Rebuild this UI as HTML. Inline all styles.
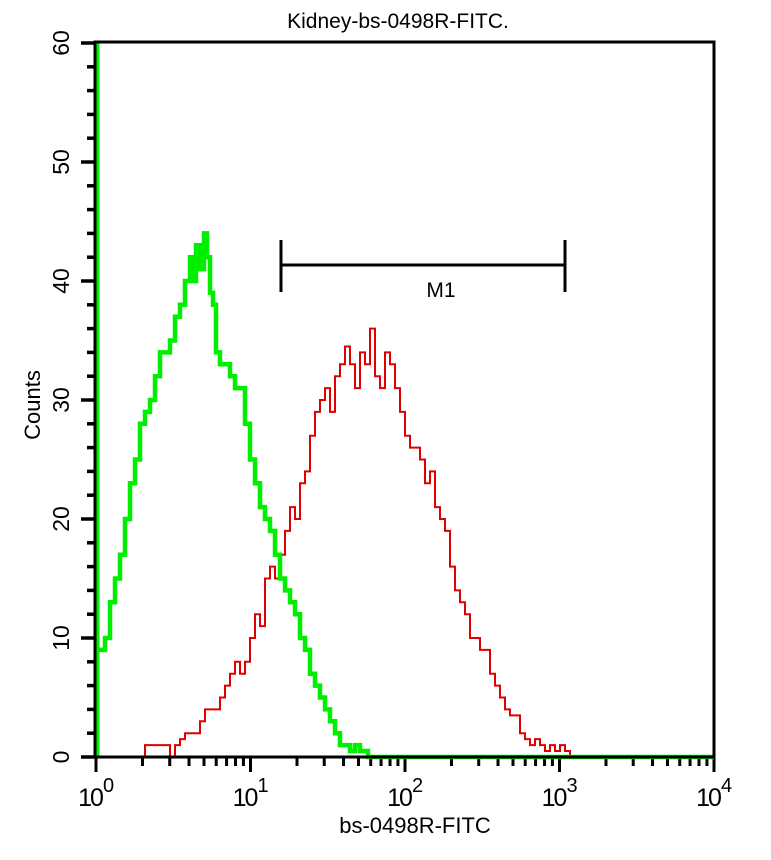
<!DOCTYPE html>
<html><head><style>body{margin:0;background:#fff}svg{display:block}text{font-family:"Liberation Sans",Arial,sans-serif;fill:#000}</style></head>
<body>
<svg id="s" width="771" height="860" xmlns="http://www.w3.org/2000/svg">
<text x="398" y="28" font-size="21" text-anchor="middle">Kidney-bs-0498R-FITC.</text>
<g id="ax"></g>
<path id="red" fill="none" stroke="#e00000" stroke-width="2"/>
<path id="grn" fill="none" stroke="#00ee00" stroke-width="4.5"/>
<line x1="97" y1="42" x2="97" y2="757" stroke="#00ee00" stroke-width="5"/>
<rect x="95" y="42" width="619" height="715" fill="none" stroke="#000" stroke-width="3"/>
<line x1="281" y1="265" x2="565" y2="265" stroke="#000" stroke-width="3"/>
<line x1="281" y1="240" x2="281" y2="292" stroke="#000" stroke-width="3"/>
<line x1="565" y1="240" x2="565" y2="292" stroke="#000" stroke-width="3"/>
<text x="441" y="297" font-size="21" text-anchor="middle">M1</text>
<text transform="translate(40,405) rotate(-90)" font-size="22" text-anchor="middle">Counts</text>
<text x="415" y="833" font-size="22" text-anchor="middle">bs-0498R-FITC</text>
</svg>
<script>
var Y=function(c){return 757-c*11.9};
var ax=document.getElementById('ax'),h='';
for(var c=0;c<=60;c+=2){var maj=c%10==0;h+='<line x1="'+(maj?81:87)+'" y1="'+Y(c)+'" x2="95" y2="'+Y(c)+'" stroke="#000" stroke-width="3.5"/>';
if(maj)h+='<text transform="translate(69,'+Y(c)+') rotate(-90)" font-size="23" text-anchor="middle">'+c+'</text>';}
var X=function(v){return 96+Math.log10(v)*154.5};
for(var d=0;d<4;d++){for(var m=1;m<10;m++){var x=X(m*Math.pow(10,d));h+='<line x1="'+x+'" y1="757" x2="'+x+'" y2="'+(m==1?772:766)+'" stroke="#000" stroke-width="3"/>';}}
h+='<line x1="'+X(1e4)+'" y1="757" x2="'+X(1e4)+'" y2="772" stroke="#000" stroke-width="3"/>';
for(var d=0;d<=4;d++){var x=X(Math.pow(10,d));h+='<text x="'+(x-6)+'" y="806" font-size="25" text-anchor="middle" letter-spacing="-2">10</text><text x="'+(x+7)+'" y="792" font-size="20">'+d+'</text>';}
ax.innerHTML=h;
function step(p){var s='M'+p[0][0]+','+Y(p[0][1]);for(var i=1;i<p.length;i++){s+='H'+p[i][0]+'V'+Y(p[i][1]);}return s;}
var g=[[97,9],[100,9],[105,10],[110,13],[115,15],[120,17],[125,20],[130,23],[135,25],[140,28],[145,29],[150,30],[155,32],[160,34],[165,34],[170,35],[175,37],[180,38],[185,40],[190,42],[193,40],[196,43],[200,41],[204,44],[207,42],[210,39],[213,38],[216,34],[220,33],[225,33],[230,32],[235,31],[240,31],[245,28],[250,25],[255,23],[260,21],[265,20],[270,19],[275,17],[280,15],[285,14],[290,13],[295,12],[300,10],[305,9],[310,7],[315,6],[320,5],[325,4],[330,3],[335,2],[340,1],[345,1],[350,0.5],[355,1],[360,0.5],[368,0],[714,0]];
var r=[[97,0],[145,0],[145,1],[170,1],[170,0],[175,1],[180,1.5],[185,2],[195,2],[200,3],[205,4],[215,4],[220,5],[225,6],[230,7],[235,8],[240,7],[245,8],[250,10],[255,12],[260,11],[265,15],[270,16],[275,15],[280,17],[285,19],[290,21],[295,20],[300,23],[305,24],[310,27],[315,29],[320,30],[325,31],[330,29],[335,32],[340,33],[345,34.5],[350,33],[355,31],[360,34],[365,33],[370,36],[375,32],[380,31],[385,34],[390,33],[395,31],[400,29],[405,27],[410,26],[420,25],[425,23],[430,24],[435,21],[440,20],[445,19],[450,16],[455,14],[460,13],[465,12],[470,10],[480,9],[490,7],[495,6],[500,5],[505,4],[510,3.5],[520,2],[525,1.5],[530,1],[535,1.5],[540,1],[545,0.5],[550,1],[555,0.5],[560,1],[565,0.5],[570,0]];
document.getElementById('grn').setAttribute('d',step(g));
document.getElementById('red').setAttribute('d',step(r));
</script>
</body></html>
